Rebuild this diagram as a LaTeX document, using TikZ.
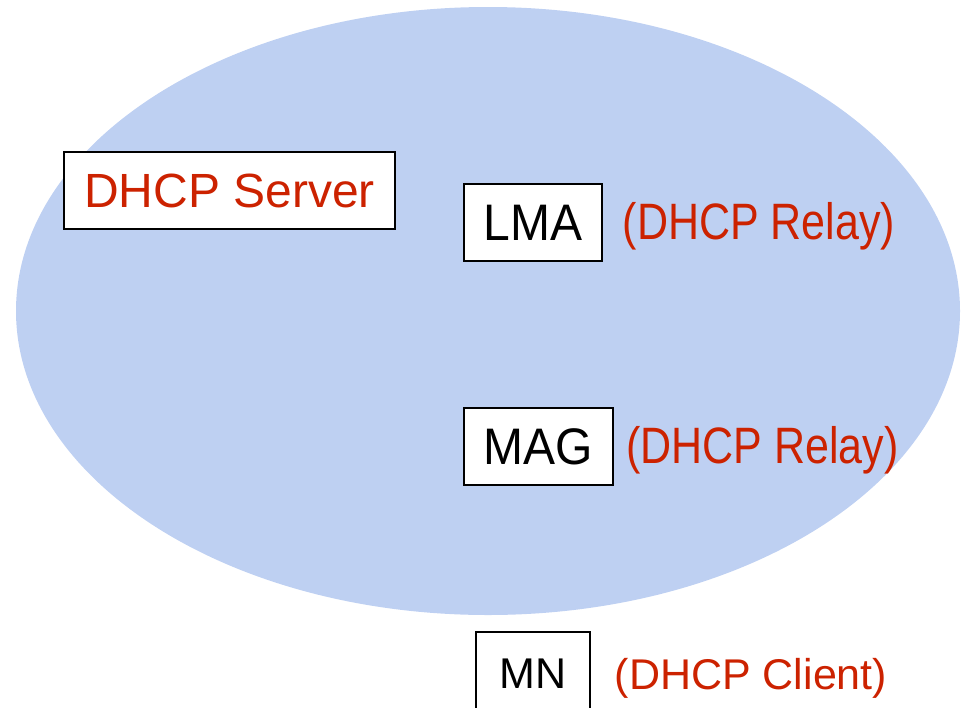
\documentclass[tikz,border=0pt]{standalone}
\usepackage{fontspec}
\setmainfont{Liberation Sans}
\usepackage{graphicx}
\usetikzlibrary{shapes.geometric}
\definecolor{cloud}{RGB}{190,208,242}
\definecolor{lbl}{RGB}{204,34,0}
\begin{document}
\begin{tikzpicture}[x=1pt,y=-1pt,
  box/.style={draw=black, line width=1.9pt, fill=white, inner sep=0pt},
  role/.style={text=lbl, inner sep=0pt, anchor=base},
  big/.style={font=\fontsize{48}{58}\selectfont},
  mid/.style={font=\fontsize{43}{52}\selectfont}]
\useasboundingbox (0,0) rectangle (966,707);
\clip (0,0) rectangle (966,707);
\node[ellipse, fill=cloud, inner sep=0pt, minimum width=944pt, minimum height=608pt] (net) at (488,311) {};
\node[box, big, text=lbl, minimum width=331pt, minimum height=77pt] (srv) at (229.5,190.5) {DHCP Server};
\node[box, big, minimum width=138pt, minimum height=77pt] (lma) at (533,222.5) {\scalebox{1}[1.07]{LMA}};
\node[box, big, minimum width=149pt, minimum height=77pt] (mag) at (538.5,446.5) {\scalebox{1}[1.07]{MAG}};
\node[box, mid, minimum width=114pt, minimum height=84pt] (mn) at (533,674) {MN};
\node[role, mid] (lmarole) at (759,239.5) {\scalebox{1}[1.19]{(DHCP Relay)}};
\node[role, mid] (magrole) at (762.5,463.5) {\scalebox{1}[1.19]{(DHCP Relay)}};
\node[role, mid] (mnrole) at (751,689) {(DHCP Client)};
\end{tikzpicture}
\end{document}
